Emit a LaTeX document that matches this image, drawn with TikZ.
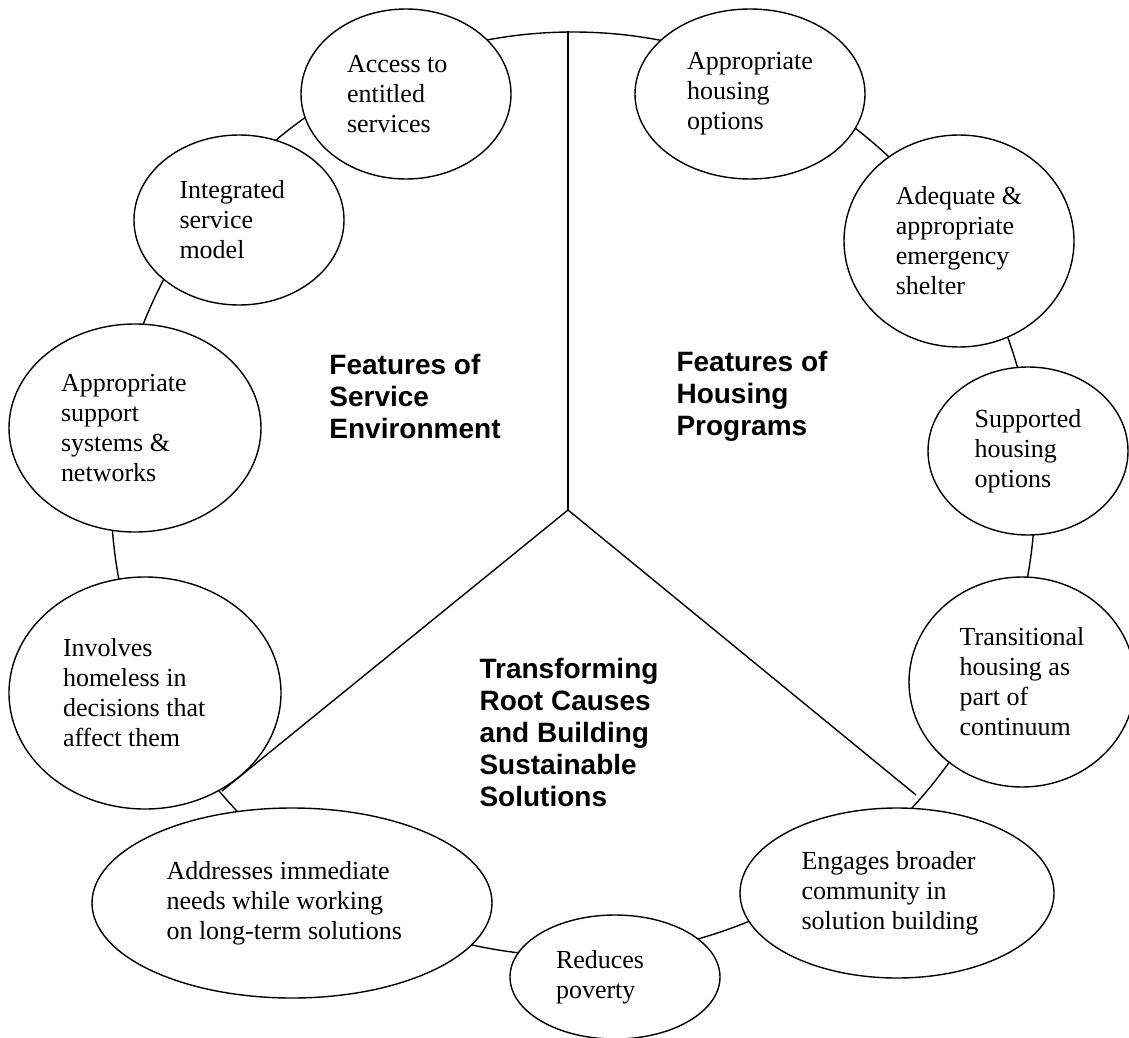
\documentclass[tikz,border=0pt]{standalone}
\usepackage{fontspec}
\setmainfont{Liberation Serif}
\newfontfamily\headfont{Liberation Sans}
\usetikzlibrary{shapes.geometric}
\tikzset{
  bubble/.style={ellipse, draw, fill=white, inner sep=0pt, align=flush left,
    font=\fontsize{13}{15}\selectfont},
  heading/.style={align=left, font=\headfont\bfseries\fontsize{14}{16}\selectfont},
}

\begin{document}
\begin{tikzpicture}[x=0.5pt,y=-0.5pt,line width=0.7pt]
\useasboundingbox (0,0) rectangle (1129,1038);

% ring behind the bubbles
\draw (573,494) circle[radius=231pt];

% the three sectors
\coordinate (ctop) at (568,31);
\coordinate (hub) at (568,510);
\coordinate (lend) at (222,791);
\coordinate (rend) at (916,795);
\draw (ctop) -- (hub);
\draw (hub) -- (lend);
\draw (hub) -- (rend);

% service environment
\node[bubble,minimum width=105pt,minimum height=85pt,text width=59pt] (acc) at (406,94) {Access to\\entitled\\services};
\node[bubble,minimum width=105pt,minimum height=85pt,text width=59.5pt] (isv) at (239,220) {Integrated\\service\\model};
\node[bubble,minimum width=126pt,minimum height=104pt,text width=74pt] (sup) at (135,428) {Appropriate\\support\\systems \&\\networks};
\node[bubble,minimum width=136pt,minimum height=116pt,text width=82pt] (inv) at (145,693) {Involves\\homeless in\\decisions that\\affect them};

% housing programs
\node[bubble,minimum width=115pt,minimum height=85pt] (ahs) at (750,94) {Appropriate\\housing\\options};
\node[bubble,minimum width=115pt,minimum height=106pt] (aes) at (959,241) {Adequate \&\\appropriate\\emergency\\shelter};
\node[bubble,minimum width=100pt,minimum height=84pt] (shs) at (1028,451) {Supported\\housing\\options};
\node[bubble,minimum width=113pt,minimum height=105pt] (trh) at (1022,682) {Transitional\\housing as\\part of\\continuum};

% root causes
\node[bubble,minimum width=200pt,minimum height=95pt,text width=125.5pt] (adr) at (292,903) {Addresses immediate\\needs while working\\on long-term solutions};
\node[bubble,minimum width=105pt,minimum height=62pt,text width=59pt] (red) at (615,977) {Reduces\\poverty};
\node[bubble,minimum width=157pt,minimum height=85pt,text width=95.5pt] (eng) at (897,893) {Engages broader\\community in\\solution building};

\node[heading] (svc) at (415,396) {Features of\\Service\\Environment};
\node[heading] (hsg) at (752,396) {Features of\\Housing\\Programs};
\node[heading] (root) at (569,732) {Transforming\\Root Causes\\and Building\\Sustainable\\Solutions};
\end{tikzpicture}
\end{document}
